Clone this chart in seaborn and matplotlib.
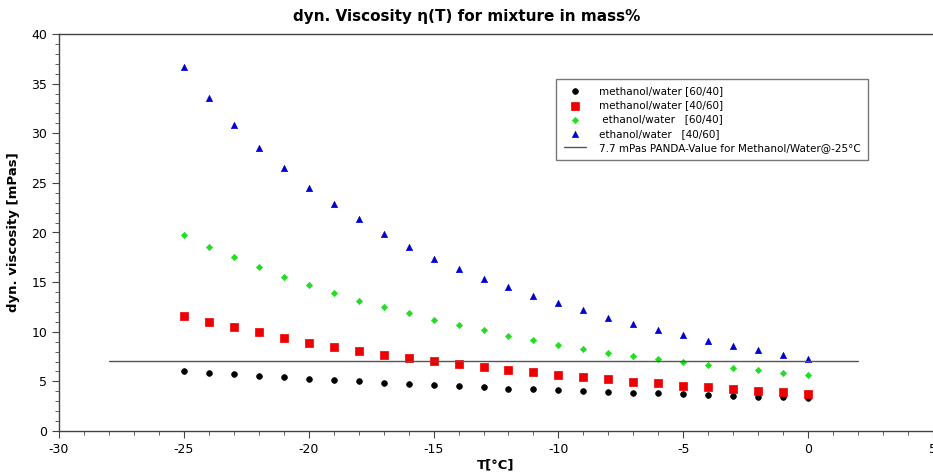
import matplotlib
matplotlib.use("Agg")
import matplotlib.pyplot as plt
import seaborn as sns
import pandas as pd
from matplotlib.ticker import MultipleLocator

temps = [-25, -24, -23, -22, -21, -20, -19, -18, -17, -16, -15, -14, -13,
         -12, -11, -10, -9, -8, -7, -6, -5, -4, -3, -2, -1, 0]

methanol_60_40 = [6.05, 5.87, 5.74, 5.57, 5.41, 5.24, 5.14, 5.00, 4.84, 4.74, 4.60, 4.53, 4.43,
                  4.26, 4.20, 4.10, 4.03, 3.96, 3.86, 3.80, 3.70, 3.63, 3.56, 3.46, 3.40, 3.29]
methanol_40_60 = [11.55, 11.01, 10.45, 9.94, 9.40, 8.90, 8.50, 8.09, 7.69, 7.39, 7.05, 6.75, 6.41,
                  6.18, 5.91, 5.61, 5.44, 5.20, 4.97, 4.80, 4.57, 4.40, 4.23, 4.06, 3.93, 3.76]
ethanol_60_40 = [19.75, 18.54, 17.56, 16.52, 15.55, 14.74, 13.87, 13.13, 12.49, 11.86, 11.18, 10.65, 10.14,
                 9.57, 9.20, 8.70, 8.30, 7.89, 7.59, 7.25, 6.92, 6.62, 6.38, 6.11, 5.87, 5.64]
ethanol_40_60 = [36.7, 33.55, 30.8, 28.5, 26.5, 24.5, 22.9, 21.4, 19.85, 18.57, 17.33, 16.32, 15.35,
                 14.48, 13.6, 12.87, 12.16, 11.42, 10.78, 10.21, 9.64, 9.07, 8.6, 8.13, 7.63, 7.22]

panda_x = [-28, 2]
panda_y = [7.1, 7.1]

labels = ["methanol/water [60/40]",
          "methanol/water [40/60]",
          " ethanol/water   [60/40]",
          "ethanol/water   [40/60]"]
line_label = "7.7 mPas PANDA-Value for Methanol/Water@-25\u00b0C"

series = [methanol_60_40, methanol_40_60, ethanol_60_40, ethanol_40_60]
colors = ["#000000", "#ee0000", "#22dd22", "#0000cc"]
markers = ["o", "s", "D", "^"]
sizes = [17, 26, 10, 20]

sns.set_style("white")
plt.rcParams['font.family'] = ['DejaVu Sans']
plt.rcParams['axes.unicode_minus'] = False
plt.rcParams['text.color'] = 'black'
plt.rcParams['axes.labelcolor'] = 'black'
plt.rcParams['xtick.color'] = 'black'
plt.rcParams['ytick.color'] = 'black'

fig = plt.figure(figsize=(9.33, 4.73), dpi=100)
ax = fig.add_axes([59 / 933, 1 - 431 / 473, 874 / 933, 397 / 473])

for vals, lab, col, mk, sz in zip(series, labels, colors, markers, sizes):
    df = pd.DataFrame({"T": temps, "eta": vals})
    sns.scatterplot(data=df, x="T", y="eta", color=col, marker=mk, s=sz,
                    edgecolor=col, linewidth=0.5, label=lab, ax=ax)

ax.plot(panda_x, panda_y, color="#555555", linewidth=1.0, label=line_label)

ax.set_xlim(-30, 5)
ax.set_ylim(0, 40)
ax.xaxis.set_major_locator(MultipleLocator(5))
ax.xaxis.set_minor_locator(MultipleLocator(1))
ax.yaxis.set_major_locator(MultipleLocator(5))
ax.yaxis.set_minor_locator(MultipleLocator(1))
ax.tick_params(which="major", direction="out", length=5, width=0.8, color="#444444",
               labelsize=9, bottom=True, left=True)
ax.tick_params(which="minor", direction="out", length=3, width=0.6, color="#444444",
               bottom=True, left=True)
for side in ["left", "bottom", "top"]:
    ax.spines[side].set_color("#444444")
    ax.spines[side].set_linewidth(1.0)
ax.spines["right"].set_visible(False)

ax.set_xlabel("T[\u00b0C]", fontsize=9.5, fontweight="bold", labelpad=2)
ax.set_ylabel("dyn. viscosity [mPas]", fontsize=9.5, fontweight="bold", labelpad=8)
fig.text(0.5, 0.965, "dyn. Viscosity \u03b7(T) for mixture in mass%", ha="center",
         va="center", fontsize=11, fontweight="bold")

leg = ax.legend(loc="upper left", bbox_to_anchor=(0.563, 0.9), fontsize=7.5,
                frameon=True, fancybox=False, edgecolor="#777777", framealpha=1,
                borderpad=0.7, labelspacing=0.4, handlelength=2.2, handletextpad=1.2)
leg.get_frame().set_linewidth(1.0)

fig.savefig("out.png", dpi=100)
